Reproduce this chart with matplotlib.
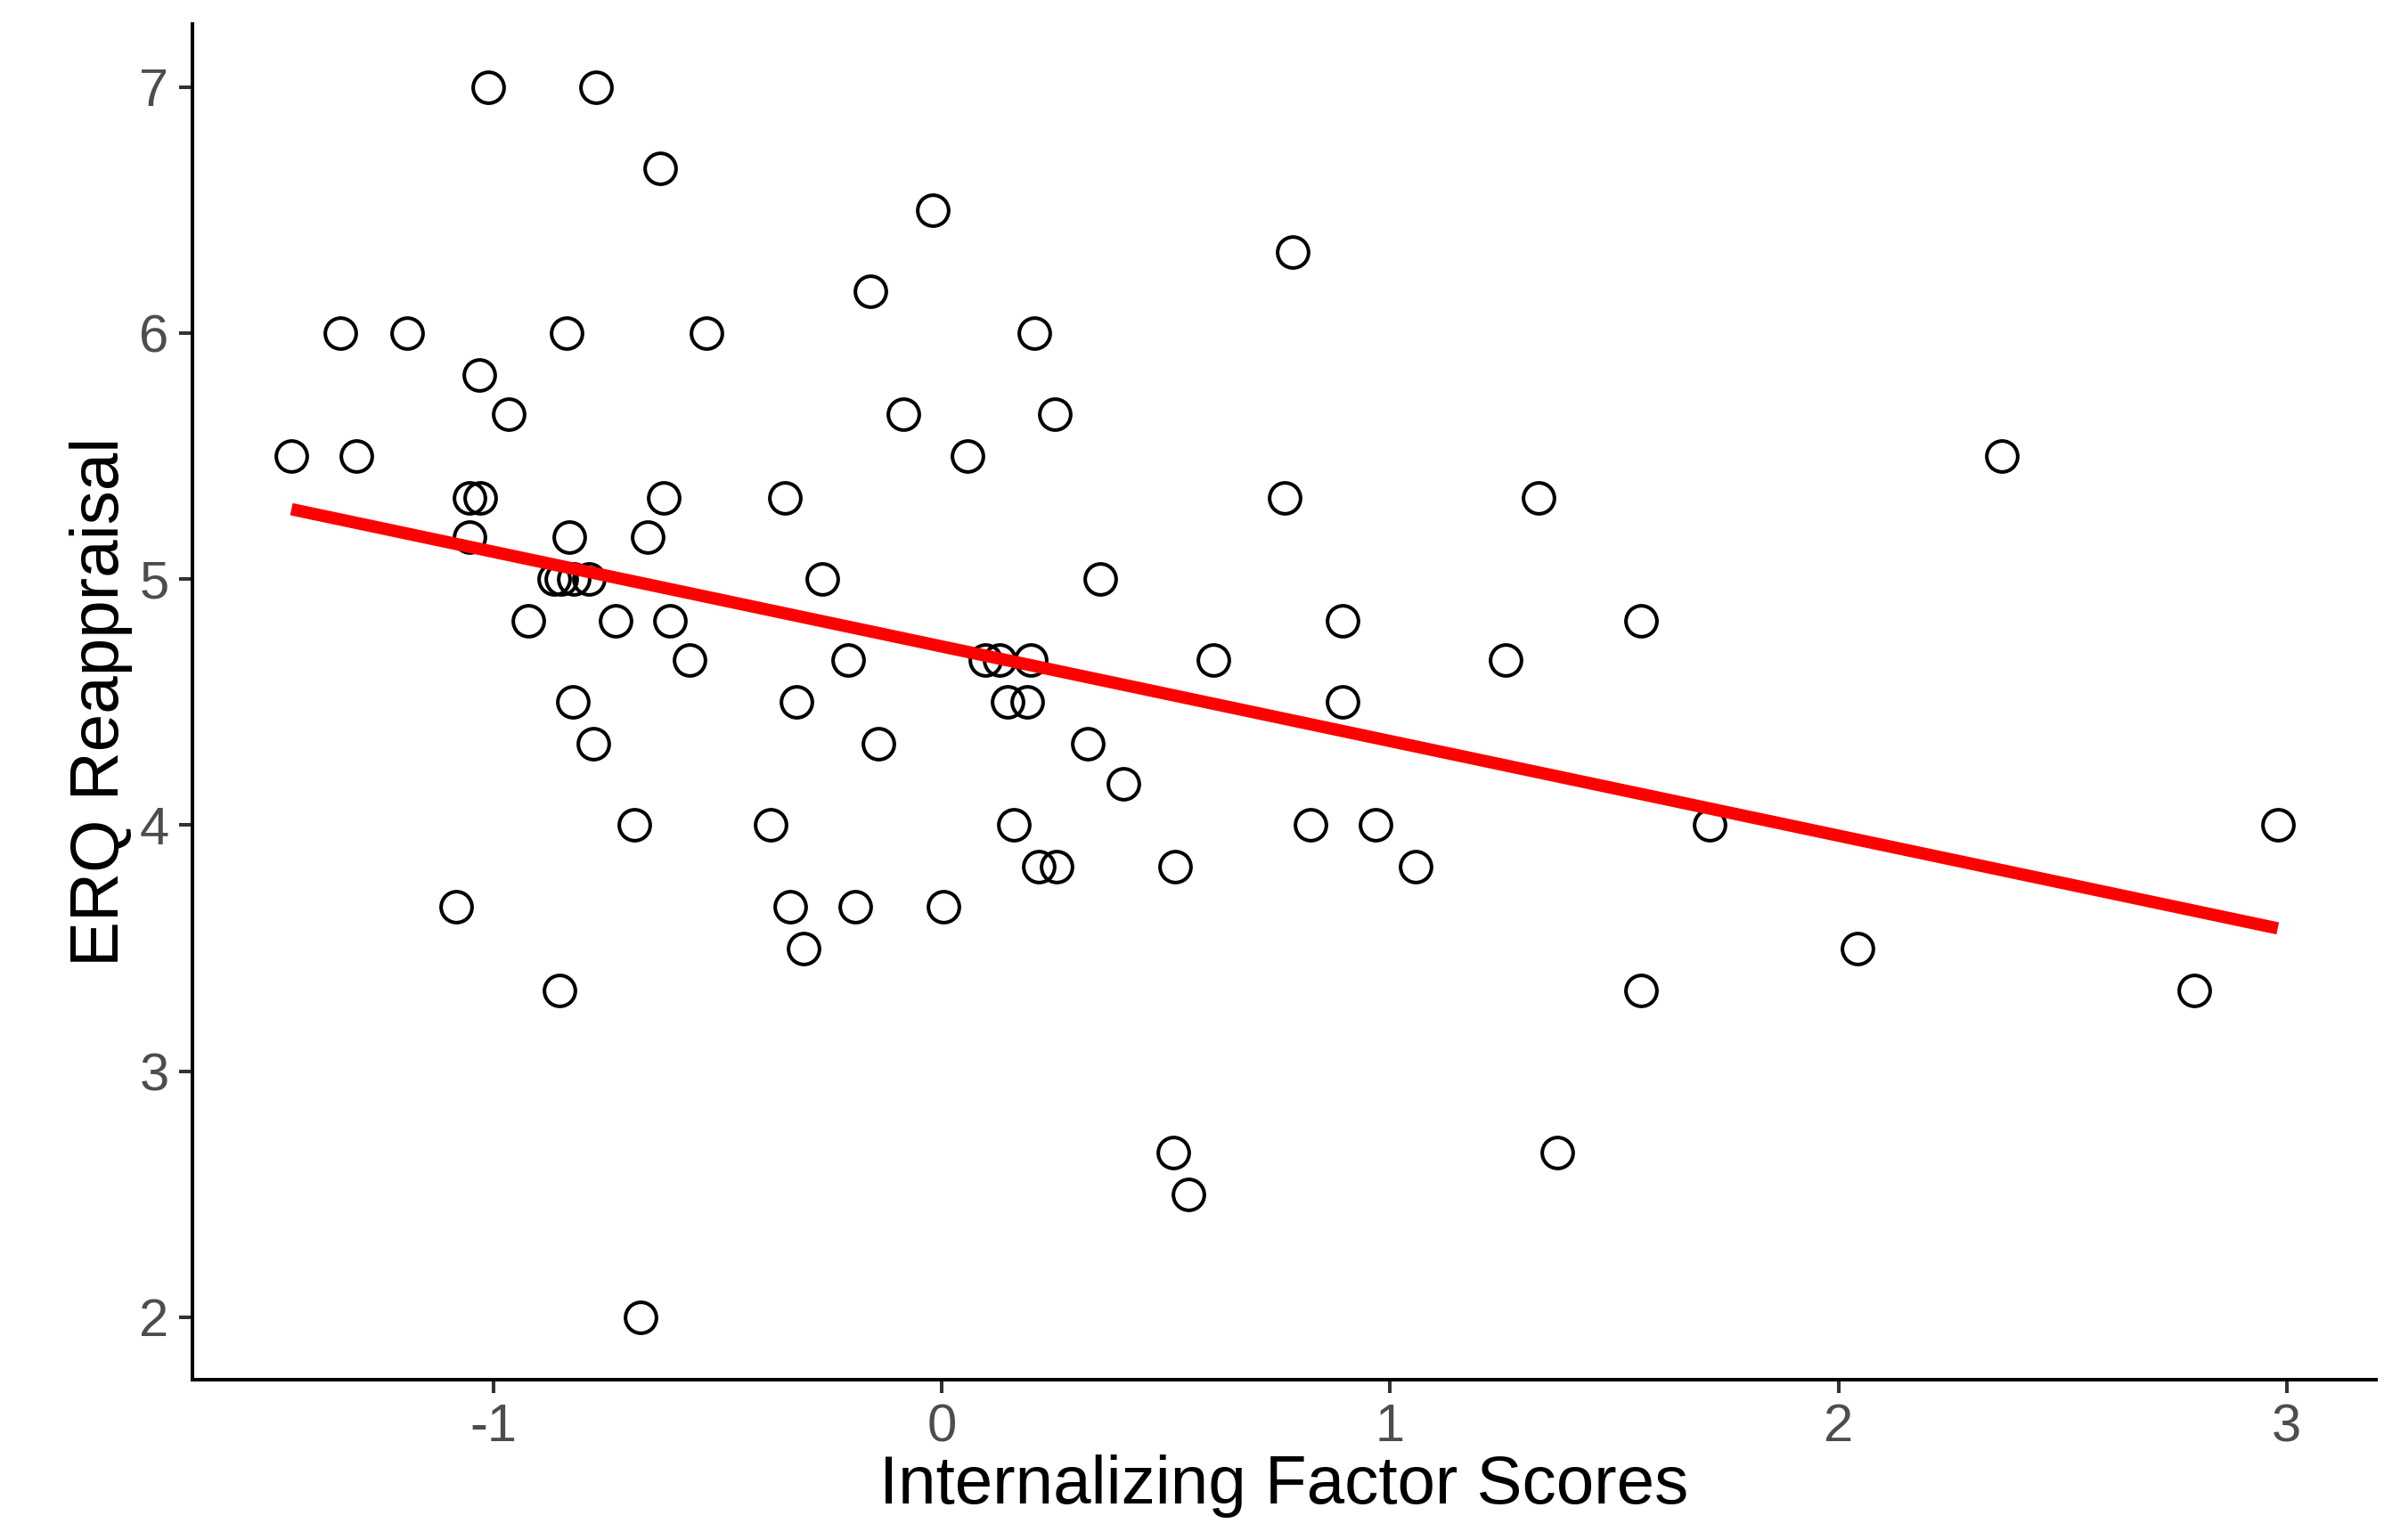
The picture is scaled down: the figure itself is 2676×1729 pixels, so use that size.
import numpy as np
import matplotlib
matplotlib.use("Agg")
import matplotlib.pyplot as plt

# values
internalizing = [
    -1.451, -1.342, -1.307, -1.192, -1.013, -0.771, -0.629, -0.837, -0.525,
    -1.032, -0.967, -1.053, -1.030, -1.053, -0.832, -0.656, -0.620, -0.866,
    -0.849, -0.822, -0.788, -0.923, -0.728, -0.607, -0.563, -0.824, -0.778,
    -0.686, -1.084, -0.853, -0.673, -0.267, -0.350, -0.325, -0.383, -0.339,
    -0.308, -0.210, -0.142, -0.193, -0.160, -0.085, -0.020, 0.058, 0.003,
    0.097, 0.129, 0.198, 0.146, 0.190, 0.161, 0.216, 0.256, 0.207,
    0.251, 0.354, 0.326, 0.405, 0.605, 0.516, 0.550, 0.520, 0.782,
    0.765, 0.822, 0.894, 0.894, 0.968, 1.057, 1.257, 1.332, 1.373,
    1.560, 1.560, 1.713, 2.042, 2.365, 2.793, 2.980,
]
reappraisal = [
    5.50, 6.00, 5.50, 6.00, 7.00, 7.00, 6.67, 6.00, 6.00,
    5.83, 5.67, 5.33, 5.33, 5.17, 5.17, 5.17, 5.33, 5.00,
    5.00, 5.00, 5.00, 4.83, 4.83, 4.83, 4.67, 4.50, 4.33,
    4.00, 3.67, 3.33, 2.00, 5.00, 5.33, 4.50, 4.00, 3.67,
    3.50, 4.67, 4.33, 3.67, 6.17, 5.67, 6.50, 5.50, 3.67,
    4.67, 4.67, 4.67, 4.50, 4.50, 4.00, 3.83, 3.83, 6.00,
    5.67, 5.00, 4.33, 4.17, 4.67, 2.67, 2.50, 3.83, 6.33,
    5.33, 4.00, 4.83, 4.50, 4.00, 3.83, 4.67, 5.33, 2.67,
    4.83, 3.33, 4.00, 3.50, 5.50, 3.33, 4.00,
]
x_ticks = [-1, 0, 1, 2, 3]
y_ticks = [2, 3, 4, 5, 6, 7]

plt.rcParams['font.family'] = ['Liberation Sans', 'DejaVu Sans']
plt.rcParams['axes.unicode_minus'] = False

x = np.array(internalizing)
y = np.array(reappraisal)

fig = plt.figure(figsize=(26.76, 17.29), dpi=100)
ax = fig.add_axes([0.0807, 0.1041, 0.9159, 0.8803])

ax.plot(x, y, linestyle='none', marker='o', markersize=25,
        markerfacecolor='none', markeredgecolor='black', markeredgewidth=2.9)

# linear fit, like geom_smooth(method = "lm", se = FALSE)
slope, intercept = np.polyfit(x, y, 1)
xs = np.array([x.min(), x.max()])
ax.plot(xs, intercept + slope * xs, color='#FF0000', linewidth=10,
        solid_capstyle='butt')

ax.set_xlim(-1.672, 3.199)
ax.set_ylim(1.746, 7.257)
ax.set_xticks(x_ticks)
ax.set_yticks(y_ticks)

for side in ['top', 'right']:
    ax.spines[side].set_visible(False)
for side in ['left', 'bottom']:
    ax.spines[side].set_linewidth(2.9)
    ax.spines[side].set_color('black')

ax.tick_params(length=11, width=2.9, color='#333333', labelcolor='#4D4D4D',
               labelsize=43, pad=8)

ax.set_xlabel('Internalizing Factor Scores', fontsize=55, color='black')
ax.set_ylabel('ERQ Reappraisal', fontsize=55, color='black')
ax.xaxis.set_label_coords(0.5, -0.055)
ax.yaxis.set_label_coords(-0.0273, 0.5)

fig.savefig('out.png', dpi=100)
